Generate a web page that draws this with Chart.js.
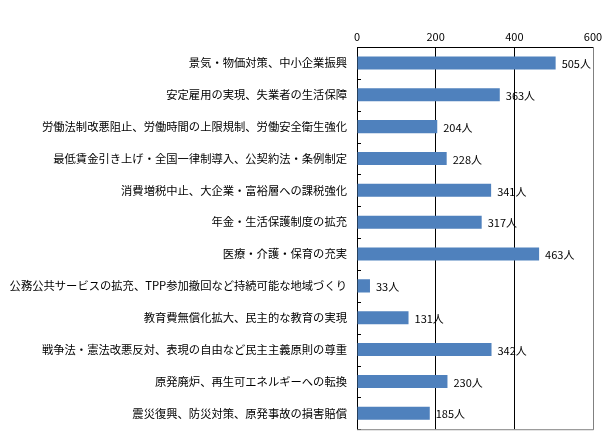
<!DOCTYPE html>
<html lang="ja">
<head>
<meta charset="utf-8">
<style>
    body { margin: 0; background: #fff; }
    #chart { display: block; }
</style>
</head>
<body>
<canvas id="chart" width="612" height="446"></canvas>
<script src="https://cdn.jsdelivr.net/npm/chart.js"></script>
<script>
    // 要求項目（上から順）
    const categories = [
        '景気・物価対策、中小企業振興',
        '安定雇用の実現、失業者の生活保障',
        '労働法制改悪阻止、労働時間の上限規制、労働安全衛生強化',
        '最低賃金引き上げ・全国一律制導入、公契約法・条例制定',
        '消費増税中止、大企業・富裕層への課税強化',
        '年金・生活保護制度の拡充',
        '医療・介護・保育の充実',
        '公務公共サービスの拡充、TPP参加撤回など持続可能な地域づくり',
        '教育費無償化拡大、民主的な教育の実現',
        '戦争法・憲法改悪反対、表現の自由など民主主義原則の尊重',
        '原発廃炉、再生可エネルギーへの転換',
        '震災復興、防災対策、原発事故の損害賠償'
    ];
    const counts = [505, 363, 204, 228, 341, 317, 463, 33, 131, 342, 230, 185];
    const xTicks = [0, 200, 400, 600];
    const unit = '人';

    const FONT = '"Noto Sans CJK JP", "Noto Sans", sans-serif';

    // 値ラベルと左軸の小さな目盛り
    const extras = {
        id: 'extras',
        afterDatasetsDraw(chart) {
            const ctx = chart.ctx;
            const meta = chart.getDatasetMeta(0);
            ctx.save();
            ctx.fillStyle = '#000';
            ctx.font = '11px ' + FONT;
            ctx.textAlign = 'left';
            ctx.textBaseline = 'middle';
            meta.data.forEach((bar, i) => {
                ctx.fillText(counts[i] + unit, bar.x + 6, bar.y + 1);
            });
            const y = chart.scales.y;
            const left = chart.chartArea.left;
            ctx.strokeStyle = '#000';
            ctx.lineWidth = 1;
            ctx.beginPath();
            for (let i = 0; i <= categories.length; i++) {
                const py = Math.round(y.getPixelForValue(i - 0.5)) + 0.5;
                ctx.moveTo(left, py);
                ctx.lineTo(left + 4, py);
            }
            ctx.stroke();
            // 外枠
            const a = chart.chartArea;
            ctx.strokeStyle = '#808080';
            ctx.beginPath();
            ctx.moveTo(a.right + 0.5, a.top);
            ctx.lineTo(a.right + 0.5, a.bottom + 0.5);
            ctx.lineTo(a.left, a.bottom + 0.5);
            ctx.stroke();
            ctx.strokeStyle = '#000';
            ctx.beginPath();
            ctx.moveTo(a.left, a.top + 0.5);
            ctx.lineTo(a.right, a.top + 0.5);
            ctx.stroke();
            ctx.restore();
        }
    };

    new Chart(document.getElementById('chart').getContext('2d'), {
        type: 'bar',
        data: {
            labels: categories,
            datasets: [{
                data: counts,
                backgroundColor: '#4f81bd',
                borderWidth: 0,
                barPercentage: 0.82,
                categoryPercentage: 0.5
            }]
        },
        options: {
            indexAxis: 'y',
            responsive: false,
            animation: false,
            layout: { padding: { top: 0, right: 19, bottom: 15, left: 0 } },
            plugins: {
                legend: { display: false },
                tooltip: { enabled: false }
            },
            scales: {
                x: {
                    position: 'top',
                    min: xTicks[0],
                    max: xTicks[xTicks.length - 1],
                    afterBuildTicks(scale) {
                        scale.ticks = xTicks.map(v => ({ value: v }));
                    },
                    afterFit(scale) { scale.height = 47; },
                    ticks: {
                        color: '#000',
                        font: { family: FONT, size: 11 },
                        padding: 4
                    },
                    grid: {
                        color: '#000',
                        lineWidth: 1,
                        drawTicks: false
                    },
                    border: { display: false }
                },
                y: {
                    afterFit(scale) { scale.width = 357; },
                    ticks: {
                        color: '#000',
                        font: { family: FONT, size: 11.3 },
                        padding: 10,
                        autoSkip: false
                    },
                    grid: { display: false, drawTicks: false },
                    border: { display: true, color: '#000', width: 1 }
                }
            }
        },
        plugins: [extras]
    });
</script>
</body>
</html>
